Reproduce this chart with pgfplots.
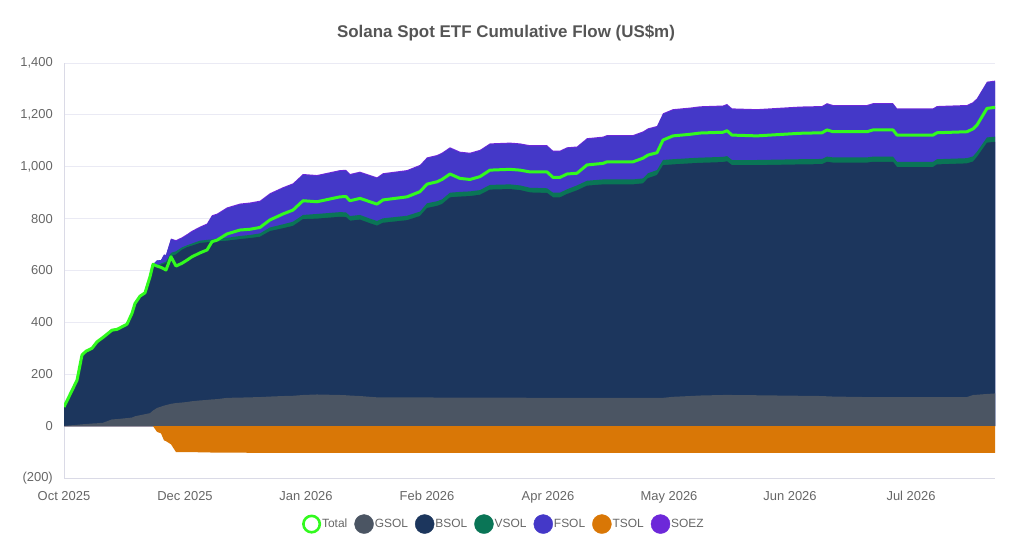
\documentclass[border=0pt]{standalone}
\usepackage{pgfplots}
\usepackage{pgfplotstable}
\pgfplotsset{compat=1.18}
\usepackage{fontspec}
\setmainfont{Liberation Sans}
\definecolor{gsol}{RGB}{75,85,99}
\definecolor{bsol}{RGB}{28,54,93}
\definecolor{vsol}{RGB}{10,117,86}
\definecolor{fsol}{RGB}{68,56,200}
\definecolor{tsol}{RGB}{217,119,6}
\definecolor{soez}{RGB}{109,40,217}
\definecolor{totalc}{RGB}{50,250,30}
\definecolor{gridc}{RGB}{234,234,244}
\definecolor{axisc}{RGB}{218,218,230}
\definecolor{txt}{RGB}{102,102,102}
\definecolor{titlec}{RGB}{85,85,85}
% cumulative stack tops: G=GSOL, N=+BSOL, V=+VSOL, F=+FSOL, S=+SOEZ, O=TSOL, T=Total
\pgfplotstableread{
x G N V F S O T
0 1 74 74 74 74 0 74
13 5 177 177 177 177 0 177
18 7 274 274 274 274 0 274
22 8 289 289 289 289 0 289
28 10 300 300 300 300 0 300
33 11 325 325 325 325 0 325
39 13 342 342 342 342 0 342
48 26 370 370 370 370 0 370
53 27 373 373 373 373 0 373
63 31 393 393 393 393 0 393
68 33 435 435 435 435 0 435
71 38 473 473 473 473 0 473
76 42 501 501 501 501 0 501
81 46 514 514 514 514 0 514
86 50 576 576 576 576 0 576
89 60 618 620 624 624 0 624
93 70 615 619 639 639 -22 617
97 75 622 627 640 640 -28 612
100 79 626 631 661 661 -55 606
102 81 628 634 660 660 -58 602
107 86 655 668 721 723 -70 653
112 89 662 674 713 717 -100 617
118 91 680 689 724 728 -100 628
123 93 690 697 736 740 -100 640
128 96 696 704 749 753 -100 653
136 99 706 715 765 769 -101 668
143 101 709 718 777 781 -101 679
148 103 710 720 809 813 -102 711
153 104 712 722 815 819 -102 717
163 109 715 726 839 843 -102 741
176 110 721 733 854 858 -102 756
186 111 725 737 858 862 -103 759
196 112 730 743 865 869 -103 766
206 114 752 766 894 898 -103 795
219 116 763 778 917 921 -103 818
229 117 772 788 932 936 -103 833
239 120 798 814 968 972 -103 869
253 122 800 818 964 968 -103 865
276 120 807 825 983 987 -103 884
282 119 806 824 984 988 -103 885
286 118 792 810 968 972 -103 869
296 116 796 814 977 981 -103 878
306 113 782 800 964 968 -103 865
313 111 773 791 955 959 -103 856
319 111 784 801 971 975 -103 872
343 111 794 811 983 987 -103 884
356 111 810 827 1003 1007 -103 904
363 111 841 859 1032 1036 -103 933
373 110 849 867 1041 1045 -103 942
378 110 856 874 1050 1054 -103 951
386 110 882 900 1071 1075 -103 972
396 110 885 903 1054 1058 -103 955
406 110 887 905 1050 1054 -103 951
416 110 892 910 1061 1065 -103 962
426 110 912 930 1086 1090 -103 987
446 110 914 932 1089 1093 -103 990
456 110 910 928 1086 1090 -103 987
466 109 901 919 1079 1083 -103 980
483 109 899 917 1079 1083 -103 980
489 109 882 900 1058 1062 -103 959
496 109 882 900 1058 1062 -103 959
503 109 895 913 1071 1075 -103 972
513 109 909 928 1074 1078 -103 975
523 109 927 946 1106 1110 -103 1007
539 109 932 951 1112 1116 -103 1013
543 109 932 951 1118 1122 -103 1019
569 109 932 951 1118 1122 -103 1019
579 109 936 955 1132 1136 -103 1033
584 109 956 975 1144 1148 -103 1045
593 109 968 987 1153 1157 -103 1054
599 109 1006 1026 1202 1206 -103 1103
609 113 1009 1029 1218 1222 -103 1119
626 116 1013 1033 1224 1228 -103 1125
636 118 1015 1035 1229 1233 -103 1130
659 120 1018 1038 1232 1236 -103 1133
663 120 1021 1041 1238 1242 -103 1139
668 120 1006 1026 1221 1225 -103 1122
693 119 1006 1026 1218 1222 -103 1119
736 117 1009 1029 1228 1232 -103 1129
758 116 1010 1030 1230 1234 -103 1131
763 115 1019 1039 1241 1245 -103 1142
769 114 1016 1036 1234 1238 -103 1135
803 112 1016 1036 1234 1238 -103 1135
809 112 1019 1039 1241 1245 -103 1142
829 112 1019 1039 1241 1245 -103 1142
833 112 999 1019 1221 1225 -103 1122
869 112 999 1019 1221 1225 -103 1122
873 112 1009 1029 1230 1234 -103 1131
903 112 1013 1033 1234 1238 -103 1135
909 120 1020 1040 1245 1249 -103 1146
913 121 1038 1058 1260 1264 -103 1161
923 124 1093 1113 1324 1328 -103 1225
931 126 1096 1116 1328 1332 -103 1229
}\flows
\begin{document}
\begin{tikzpicture}
\useasboundingbox (0,0) rectangle (1024bp,542bp);
\node[font=\bfseries\fontsize{17}{20}\selectfont, text=titlec] at (506bp,509bp) {Solana Spot ETF Cumulative Flow (US\$m)};
\begin{axis}[
  at={(64bp,64bp)}, anchor=south west,
  width=931bp, height=415bp, scale only axis,
  xmin=0, xmax=931, ymin=-200, ymax=1400,
  axis lines*=left,
  axis line style={draw=axisc, line width=0.8bp},
  ymajorgrids, grid style={draw=gridc, line width=0.8bp},
  major tick length=0pt,
  xtick={0,121,242,363,484,605,726,847},
  xticklabels={Oct 2025,Dec 2025,Jan 2026,Feb 2026,Apr 2026,May 2026,Jun 2026,Jul 2026},
  ytick={-200,0,200,400,600,800,1000,1200,1400},
  yticklabels={(200),0,200,400,600,800,{1,000},{1,200},{1,400}},
  ticklabel style={font=\fontsize{13}{15}\selectfont, text=txt, inner sep=0pt},
  xticklabel style={anchor=north, yshift=-13bp},
  yticklabel style={anchor=east, xshift=-11bp},
  legend columns=-1,
  legend style={at={(axis description cs:0.472,-0.111)}, anchor=center, draw=none, fill=none,
    font=\fontsize{12}{14}\selectfont, text=txt,
    nodes={inner xsep=1bp, inner ysep=0pt},
    /tikz/every even column/.append style={column sep=6bp}},
]
\addplot[draw=none, fill=soez, forget plot] table[x=x, y=S] {\flows} \closedcycle;
\addplot[draw=none, fill=fsol, forget plot] table[x=x, y=F] {\flows} \closedcycle;
\addplot[draw=none, fill=vsol, forget plot] table[x=x, y=V] {\flows} \closedcycle;
\addplot[draw=none, fill=bsol, forget plot] table[x=x, y=N] {\flows} \closedcycle;
\addplot[draw=none, fill=gsol, forget plot] table[x=x, y=G] {\flows} \closedcycle;
\addplot[draw=none, fill=tsol, forget plot] table[x=x, y=O] {\flows} \closedcycle;
\addplot[draw=totalc, line width=3bp, line join=round, forget plot] table[x=x, y=T] {\flows};
\addlegendimage{legend image code/.code={\draw[totalc, line width=2.6bp] (9.5bp,0bp) circle (8.2bp);}}
\addlegendentry{Total}
\addlegendimage{legend image code/.code={\fill[gsol] (9.5bp,0bp) circle (9.5bp);}}
\addlegendentry{GSOL}
\addlegendimage{legend image code/.code={\fill[bsol] (9.5bp,0bp) circle (9.5bp);}}
\addlegendentry{BSOL}
\addlegendimage{legend image code/.code={\fill[vsol] (9.5bp,0bp) circle (9.5bp);}}
\addlegendentry{VSOL}
\addlegendimage{legend image code/.code={\fill[fsol] (9.5bp,0bp) circle (9.5bp);}}
\addlegendentry{FSOL}
\addlegendimage{legend image code/.code={\fill[tsol] (9.5bp,0bp) circle (9.5bp);}}
\addlegendentry{TSOL}
\addlegendimage{legend image code/.code={\fill[soez] (9.5bp,0bp) circle (9.5bp);}}
\addlegendentry{SOEZ}
\end{axis}
\end{tikzpicture}
\end{document}
